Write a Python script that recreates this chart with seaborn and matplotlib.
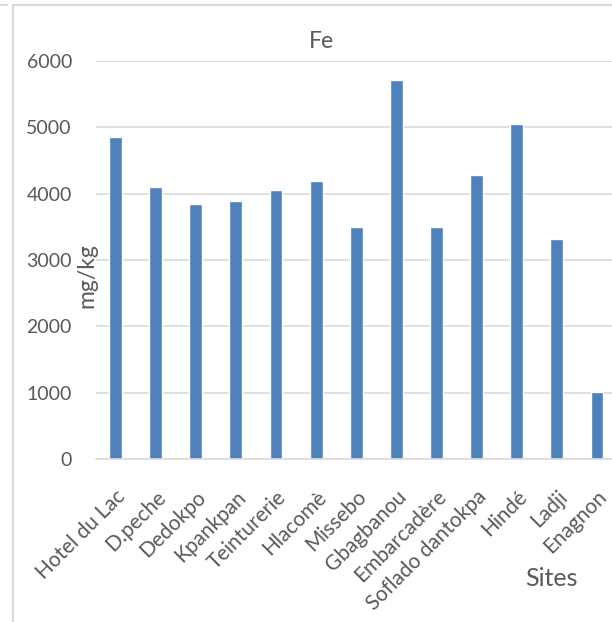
import matplotlib
matplotlib.use("Agg")
import matplotlib.pyplot as plt
import seaborn as sns
import pandas as pd
from matplotlib.lines import Line2D

sites = ["Hotel du Lac", "D.peche", "Dedokpo", "Kpankpan", "Teinturerie", "Hlacomè",
         "Missebo", "Gbagbanou", "Embarcadère", "Soflado dantokpa", "Hindé", "Ladji", "Enagnon"]
fe_values = [4860, 4095, 3840, 3893, 4054, 4195, 3491, 5714, 3501, 4286, 5050, 3315, 1006]
y_ticks = [0, 1000, 2000, 3000, 4000, 5000, 6000]

sns.set_theme(style="white")
plt.rcParams["font.family"] = ["Lato", "DejaVu Sans"]

df = pd.DataFrame({"Sites": sites, "Fe": fe_values})

W, H = 612, 622
fig = plt.figure(figsize=(W/100, H/100), dpi=100)
left, right, top, bottom = 95.5, 617.0, 61.0, 459.0
ax = fig.add_axes([left/W, 1-bottom/H, (right-left)/W, (bottom-top)/H])

sns.barplot(data=df, x="Sites", y="Fe", color="#4F81BD", saturation=1,
            width=0.32, ax=ax)

gray = "#595959"
ax.set_ylim(0, 6000)
ax.set_xlim(-0.5, len(sites)-0.5)
ax.set_yticks(y_ticks)
ax.set_yticklabels([str(v) for v in y_ticks], fontsize=14, color=gray)
ax.yaxis.grid(True, color="#D9D9D9", linewidth=1.2)
ax.set_axisbelow(True)
for s in ["top", "right", "left"]:
    ax.spines[s].set_visible(False)
ax.spines["bottom"].set_color("#D9D9D9")
ax.spines["bottom"].set_linewidth(1.2)
ax.tick_params(axis="y", length=0, pad=17)
ax.tick_params(axis="x", length=0, pad=20)
ax.set_xticks(range(len(sites)))
ax.set_xticklabels(sites, rotation=45, ha="right", rotation_mode="anchor",
                   fontsize=15, color=gray)

ax.set_xlabel("")
ax.set_ylabel("mg/kg", fontsize=16.5, color=gray)
ax.yaxis.set_label_coords((97-left)/(right-left), (bottom-276)/(bottom-top))
ax.set_title("")

fig.text(321/W, 1-41/H, "Fe", fontsize=16.5, color=gray, ha="center", va="center")
fig.text(551/W, 1-578/H, "Sites", fontsize=18, color=gray, ha="center", va="center")

# chart area border (partial, as in the screenshot)
lc = "#D9D9D9"
fig.add_artist(Line2D([13/W, 13/W], [0, 1-5/H], transform=fig.transFigure,
                      color=lc, linewidth=1.5))
fig.add_artist(Line2D([13/W, 1], [1-5/H, 1-5/H], transform=fig.transFigure,
                      color=lc, linewidth=1.5))
fig.add_artist(Line2D([0, 7/W], [1-5/H, 1-5/H], transform=fig.transFigure,
                      color=lc, linewidth=1.5))

fig.savefig("out.png", dpi=100)
